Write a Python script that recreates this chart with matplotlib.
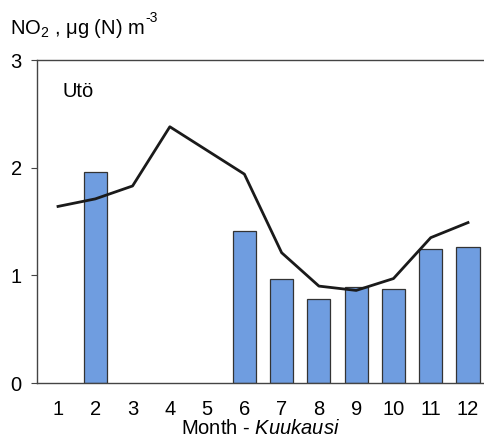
import numpy as np
import matplotlib.pyplot as plt

plt.rcParams['font.family'] = ['Liberation Sans', 'DejaVu Sans']
plt.rcParams['mathtext.fontset'] = 'custom'
plt.rcParams['mathtext.rm'] = 'Liberation Sans'
plt.rcParams['mathtext.it'] = 'Liberation Sans:italic'

months = np.arange(1, 13)
# monthly means (bars), nan = no data
bar_vals = [np.nan, 1.96, np.nan, np.nan, np.nan, 1.41, 0.97, 0.78, 0.89, 0.87, 1.24, 1.26]
# long-term line
line_vals = [1.64, 1.71, 1.83, 2.38, 2.16, 1.94, 1.21, 0.90, 0.86, 0.97, 1.35, 1.49]

fig = plt.figure(figsize=(4.85, 4.4), dpi=100)
ax = fig.add_axes([37/485, 57/440, 1 - 37/485, (383-60)/440])

ax.bar(months, bar_vals, width=0.62, color='#6f9de0', edgecolor='#333333', linewidth=0.9, zorder=2)
ax.plot(months, line_vals, color='#1a1a1a', linewidth=2.0, zorder=3)

ax.set_xlim(0.436, 12.456)
ax.set_ylim(0, 3)
ax.set_yticks([0, 1, 2, 3])
ax.set_xticks(months)
ax.tick_params(axis='y', direction='out', length=4, pad=7, labelsize=14.5, color='#444444')
ax.tick_params(axis='x', length=0, pad=12, labelsize=14.5)
for s in ['left', 'top', 'bottom']:
    ax.spines[s].set_color('#444444')
    ax.spines[s].set_linewidth(1.0)
ax.spines['right'].set_visible(False)

ax.set_xlabel(r'Month - $\mathit{Kuukausi}$', fontsize=14.5, labelpad=0)
fig.text(63/485, 1 - 97/440, 'Utö', fontsize=14.5)

# unit label, superscript drawn as plain text so the hyphen stays a hyphen
t = fig.text(10/485, 1 - 34/440, r'NO$_2$ , μg (N) m', fontsize=14.5)
fig.canvas.draw()
bb = t.get_window_extent()
fig.text(bb.x1 / 485 + 1/485, 1 - 22/440, '-3', fontsize=10)

fig.savefig('out.png', dpi=100)
